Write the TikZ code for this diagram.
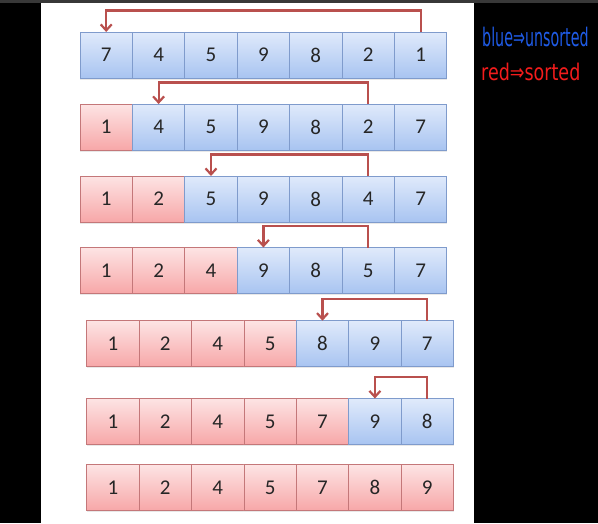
\documentclass[tikz,border=0pt]{standalone}
\usepackage{fontspec}
\setmainfont{Carlito}
\newfontfamily\handfont{DejaVu Sans}
\usetikzlibrary{arrows.meta, shadows}

\definecolor{bluetop}{HTML}{E0EAFB}
\definecolor{bluebot}{HTML}{A8C4F1}
\definecolor{bluedge}{HTML}{7F9BCC}
\definecolor{redtop}{HTML}{FDE4E4}
\definecolor{redbot}{HTML}{F7A7A8}
\definecolor{rededge}{HTML}{C47779}
\definecolor{arrowred}{HTML}{B9504E}
\definecolor{handblue}{HTML}{1F5BE6}
\definecolor{handred}{HTML}{F21C1C}

\tikzset{
  cell/.style={draw, minimum width=52.4pt, minimum height=46pt, inner sep=0pt,
    outer sep=0pt, line width=0.8pt, text=black!85,
    font=\fontsize{21}{24}\selectfont,
    drop shadow={opacity=0.18, shadow xshift=0pt, shadow yshift=-1.5pt}},
  unsorted/.style={draw=bluedge, top color=bluetop, bottom color=bluebot},
  sorted/.style={draw=rededge, top color=redtop, bottom color=redbot},
  swap/.style={-{Straight Barb[length=6pt, width=11pt]}, draw=arrowred, line width=2.2pt},
  hand/.style={anchor=base west, inner sep=0pt, font=\handfont\fontsize{17}{20}\selectfont}
}

\begin{document}
\begin{tikzpicture}[x=1pt, y=-1pt]
  \useasboundingbox (0,0) rectangle (598,523);
  % background and white sheet
  \fill[black] (0,0) rectangle (598,523);
  \fill[white] (41.3,3) rectangle (474,523);
  \fill[black!78] (0,0) rectangle (598,3);

  % rows: number / centre y / left x / sorted cells / values
  \foreach \r/\y/\x/\k/\vals in {1/55/80/0/{7,4,5,9,8,2,1},
                                 2/127/80/1/{1,4,5,9,8,2,7},
                                 3/199/80/2/{1,2,5,9,8,4,7},
                                 4/270.5/80/3/{1,2,4,9,8,5,7},
                                 5/343.7/86.7/4/{1,2,4,5,8,9,7},
                                 6/421.5/86.7/5/{1,2,4,5,7,9,8},
                                 7/487.5/86.7/7/{1,2,4,5,7,8,9}}
  {
    \foreach \v [count=\i] in \vals {
      \ifnum\i>\k \def\sty{unsorted}\else\def\sty{sorted}\fi
      \node[cell, \sty] (c\r-\i) at ({\x+(\i-0.5)*52.4}, \y) {\v};
    }
  }

  % swaps
  \foreach \r/\a/\b in {1/7/1, 2/6/2, 3/6/3, 4/6/4, 5/7/5, 6/7/6}
    \draw[swap] (c\r-\a.north) -- ++(0,-21.5) -| (c\r-\b.north);

  % legend
  \node[hand, text=handblue] (lblblue) at (482,46) {\scalebox{0.84}[1.5]{blue⇒unsorted}};
  \node[hand, text=handred] (lblred) at (481,80) {\scalebox{1.03}[1.35]{red⇒sorted}};
\end{tikzpicture}
\end{document}
